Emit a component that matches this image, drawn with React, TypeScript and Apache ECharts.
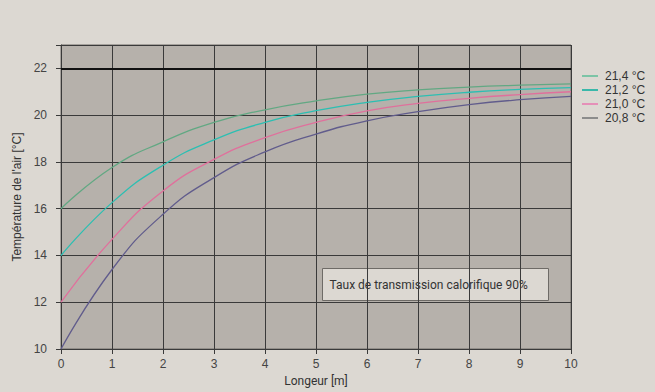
import React, { useEffect, useRef } from "react";
import * as echarts from "echarts";

const xValues = [0, 1, 2, 3, 4, 5, 6, 7, 8, 9, 10];
const seriesNames = ["21,4 °C", "21,2 °C", "21,0 °C", "20,8 °C"];
const green = [16.0, 17.76, 18.86, 19.69, 20.23, 20.61, 20.9, 21.08, 21.2, 21.28, 21.34];
const teal = [14.0, 16.26, 17.86, 18.94, 19.69, 20.19, 20.55, 20.8, 20.98, 21.1, 21.18];
const pink = [12.0, 14.69, 16.76, 18.11, 19.04, 19.69, 20.18, 20.5, 20.72, 20.88, 21.0];
const purple = [10.0, 13.4, 15.76, 17.33, 18.43, 19.19, 19.76, 20.15, 20.45, 20.66, 20.8];
const seriesColors = ["#62a883", "#2cbfb2", "#e0709c", "#615c8c"];
const legendColors = ["#7cc4a6", "#3ab8aa", "#e590b8", "#8c8c8c"];
const referenceLine = 22;
const yTicks = [10, 12, 14, 16, 18, 20, 22];
const annotation = "Taux de transmission calorifique 90%";

export default function App() {
  const ref = useRef<HTMLDivElement>(null);
  useEffect(() => {
    document.body.style.margin = "0";
    const chart = echarts.init(ref.current!, null, { renderer: "svg" });
    const all = [green, teal, pink, purple];
    const font = "Liberation Sans, Arial, sans-serif";
    chart.setOption({
      animation: false,
      backgroundColor: "#dcd8d2",
      textStyle: { fontFamily: font },
      grid: {
        left: 61,
        right: 84,
        top: 45,
        bottom: 42,
        show: true,
        backgroundColor: "#b6b1ab",
        borderColor: "#6e6b67",
        borderWidth: 1,
      },
      legend: {
        orient: "vertical",
        left: 577,
        top: 65,
        itemWidth: 16,
        itemHeight: 2,
        itemGap: 2,
        icon: "rect",
        data: seriesNames.map((name, i) => ({ name, itemStyle: { color: legendColors[i] } })),
        textStyle: { fontSize: 12, color: "#333", fontFamily: font, padding: [0, 0, 0, 2] },
      },
      xAxis: {
        type: "value",
        min: 0,
        max: 10,
        interval: 1,
        name: "Longeur [m]",
        nameLocation: "middle",
        nameGap: 26,
        nameTextStyle: { fontSize: 12, color: "#333", fontFamily: "Roboto, sans-serif" },
        axisLine: { show: true, lineStyle: { color: "#3a3a3a" } },
        axisTick: { show: true, length: 5, lineStyle: { color: "#3a3a3a" } },
        axisLabel: { fontSize: 12, color: "#444", margin: 9 },
        splitLine: { show: true, lineStyle: { color: "#3a3a3a", width: 1 } },
      },
      yAxis: {
        type: "value",
        min: 10,
        max: 23,
        interval: 2,
        name: "Température de l'air [°C]",
        nameLocation: "middle",
        nameGap: 36,
        nameRotate: 90,
        nameTextStyle: { fontSize: 12, color: "#333" },
        axisLine: { show: true, lineStyle: { color: "#3a3a3a" } },
        axisTick: { show: true, length: 5, lineStyle: { color: "#3a3a3a" } },
        axisLabel: {
          fontSize: 12,
          color: "#444",
          margin: 14,
          formatter: (v: number) => (yTicks.includes(v) ? String(v) : ""),
        },
        splitLine: { show: true, lineStyle: { color: "#3a3a3a", width: 1 } },
      },
      series: seriesNames.map((name, i) => ({
        name,
        type: "line",
        smooth: true,
        symbol: "none",
        data: xValues.map((x, j) => [x, all[i][j]]),
        lineStyle: { color: seriesColors[i], width: 1.3 },
        itemStyle: { color: seriesColors[i] },
        z: 3,
        markLine:
          i === 0
            ? {
                silent: true,
                symbol: "none",
                label: { show: false },
                lineStyle: { color: "#111", width: 2, type: "solid" },
                data: [{ yAxis: referenceLine }],
              }
            : undefined,
      })),
      graphic: [
        {
          type: "group",
          left: 322,
          top: 268,
          children: [
            {
              type: "rect",
              shape: { x: 0, y: 0, width: 226, height: 32 },
              style: { fill: "#dcd8d2", stroke: "#6e6b67", lineWidth: 1 },
            },
            {
              type: "text",
              x: 7,
              y: 16,
              style: {
                text: annotation,
                fill: "#333",
                font: "12px Roboto, sans-serif",
                verticalAlign: "middle",
              },
            },
          ],
        },
      ],
    });
    return () => chart.dispose();
  }, []);
  return <div ref={ref} style={{ width: 655, height: 392 }} />;
}
